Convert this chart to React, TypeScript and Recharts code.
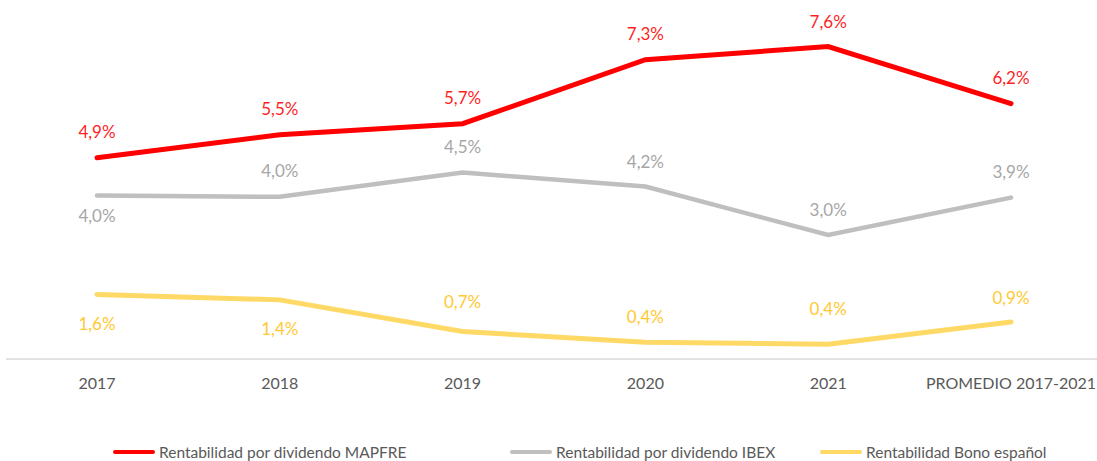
import { LineChart, Line, XAxis, YAxis, LabelList } from 'recharts';

const categories = ['2017', '2018', '2019', '2020', '2021', 'PROMEDIO 2017-2021'];
const mapfre = [4.9, 5.46, 5.73, 7.29, 7.61, 6.22];
const ibex = [3.98, 3.95, 4.54, 4.2, 3.02, 3.93];
const bono = [1.57, 1.44, 0.67, 0.41, 0.36, 0.9];

// where each data label sits relative to its point (px, text centre)
const mapfreLabelDy = [-26, -26, -26, -26, -25, -26];
const ibexLabelDy = [20, -26, -26, -25, -26, -26];
const bonoLabelDy = [29, 29, -30, -26, -36, -25];

const FONT = 'Lato, "Open Sans", sans-serif';

const data = categories.map((name, i) => ({
  name,
  mapfre: mapfre[i],
  ibex: ibex[i],
  bono: bono[i],
}));

const fmt = (v: number) => `${v.toFixed(1).replace('.', ',')}%`;

const makeLabel = (color: string, dys: number[]) => (props: any) => {
  const { x, y, value, index } = props;
  return (
    <text
      x={x}
      y={y + dys[index]}
      textAnchor="middle"
      dominantBaseline="central"
      fill={color}
      fontSize={17}
      fontFamily={FONT}
    >
      {fmt(value)}
    </text>
  );
};

const legendItems = [
  { label: 'Rentabilidad por dividendo MAPFRE', color: '#FF0000', width: 397 },
  { label: 'Rentabilidad por dividendo IBEX', color: '#BFBFBF', width: 310 },
  { label: 'Rentabilidad Bono español', color: '#FFD966', width: 260 },
];

export default function App() {
  return (
    <div style={{ position: 'absolute', left: 0, top: 0, width: 1097, height: 461, overflow: 'hidden', background: '#fff' }}>
      <LineChart width={1110} height={400} data={data} margin={{ top: 10, right: 8, left: 6, bottom: 0 }}>
        <XAxis
          dataKey="name"
          height={41}
          padding={{ left: 91, right: 91 }}
          axisLine={{ stroke: '#D9D9D9', strokeWidth: 1.5 }}
          tickLine={false}
          tickSize={0}
          tickMargin={19}
          tick={{ fill: '#595959', fontSize: 16, fontFamily: FONT }}
          interval={0}
        />
        <YAxis hide domain={[0, 8.5]} />
        <Line
          type="linear"
          dataKey="mapfre"
          stroke="#FF0000"
          strokeWidth={5}
          strokeLinecap="round"
          dot={false}
          isAnimationActive={false}
        >
          <LabelList dataKey="mapfre" content={makeLabel('#FF1F1F', mapfreLabelDy)} />
        </Line>
        <Line
          type="linear"
          dataKey="ibex"
          stroke="#BFBFBF"
          strokeWidth={4.5}
          strokeLinecap="round"
          dot={false}
          isAnimationActive={false}
        >
          <LabelList dataKey="ibex" content={makeLabel('#A6A6A6', ibexLabelDy)} />
        </Line>
        <Line
          type="linear"
          dataKey="bono"
          stroke="#FFD966"
          strokeWidth={5}
          strokeLinecap="round"
          dot={false}
          isAnimationActive={false}
        >
          <LabelList dataKey="bono" content={makeLabel('#FFC933', bonoLabelDy)} />
        </Line>
      </LineChart>
      <div style={{ position: 'absolute', left: 113, top: 441, display: 'flex', fontFamily: FONT, fontSize: 15.5, color: '#595959' }}>
        {legendItems.map((it) => (
          <div key={it.label} style={{ width: it.width, display: 'flex', alignItems: 'center', height: 22 }}>
            <div style={{ width: 42, height: 4, background: it.color, borderRadius: 2, marginRight: 4 }} />
            <span>{it.label}</span>
          </div>
        ))}
      </div>
    </div>
  );
}
